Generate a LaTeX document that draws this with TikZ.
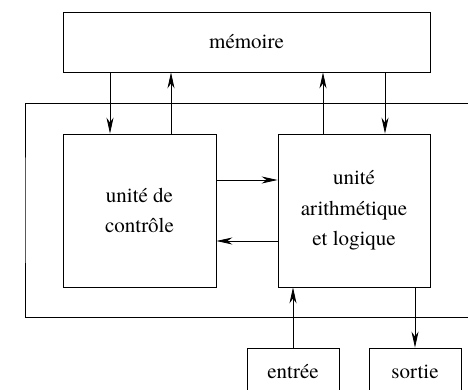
\documentclass[tikz,border=0pt]{standalone}
\usepackage{fontspec}
\setmainfont{TeX Gyre Termes}
\usetikzlibrary{arrows.meta,positioning}

\tikzset{
    unit/.style={draw, line width=0.8pt, align=center, inner sep=0pt},
    link/.style={line width=0.8pt, -{Stealth[length=16pt,width=7pt,inset=5pt]}}
}

\begin{document}
\begin{tikzpicture}[x=1pt, y=1pt, font=\rmfamily\fontsize{21}{30.5}\selectfont]

    \def\memW{367}
    \def\boxW{153}
    \def\ioW{92}
    \def\arrOff{30.5}

    \useasboundingbox (0,0) rectangle (468,390);
    \clip (0,0) rectangle (468,390);

    % memoire en haut
    \node[unit, minimum width=\memW pt, minimum height=60pt] (mem) at (246.5,348) {mémoire};

    % le processeur
    \node[unit, minimum width=\boxW pt, minimum height=153pt] (ctrl) at (139.5,179.5) {unité de\\contrôle};
    \node[unit, minimum width=152pt, minimum height=153pt] (alu) at (354,179.5) {unité\\arithmétique\\et logique};

    % entrees / sorties
    \node[unit, minimum width=\ioW pt, minimum height=48pt] (in) at (293,18) {entrée};
    \node[unit, minimum width=\ioW pt, minimum height=48pt] (out) at (415,18) {sortie};

    % cadre ouvert a droite
    \coordinate (cpuTR) at (475,287);
    \coordinate (cpuBR) at (475,73);
    \coordinate (cpuL) at (25,180);
    \draw[line width=0.8pt] (cpuTR) -| (cpuL) |- (cpuBR);

    % liaisons memoire
    \draw[link] ([xshift=-29.5pt]ctrl.north |- mem.south) -- ([xshift=-29.5pt]ctrl.north);
    \draw[link] ([xshift=31.5pt]ctrl.north) -- ([xshift=31.5pt]ctrl.north |- mem.south);
    \draw[link] ([xshift=-31pt]alu.north) -- ([xshift=-31pt]alu.north |- mem.south);
    \draw[link] ([xshift=31pt]alu.north |- mem.south) -- ([xshift=31pt]alu.north);

    % controle <-> ual
    \draw[link] ([yshift=\arrOff pt]ctrl.east) -- ([yshift=\arrOff pt]ctrl.east -| alu.west);
    \draw[link] ([yshift=-\arrOff pt]alu.west) -- ([yshift=-\arrOff pt]alu.west -| ctrl.east);

    % e/s
    \draw[link] (in.north) -- (in.north |- alu.south);
    \draw[link] (out.north |- alu.south) -- (out.north);

\end{tikzpicture}
\end{document}
